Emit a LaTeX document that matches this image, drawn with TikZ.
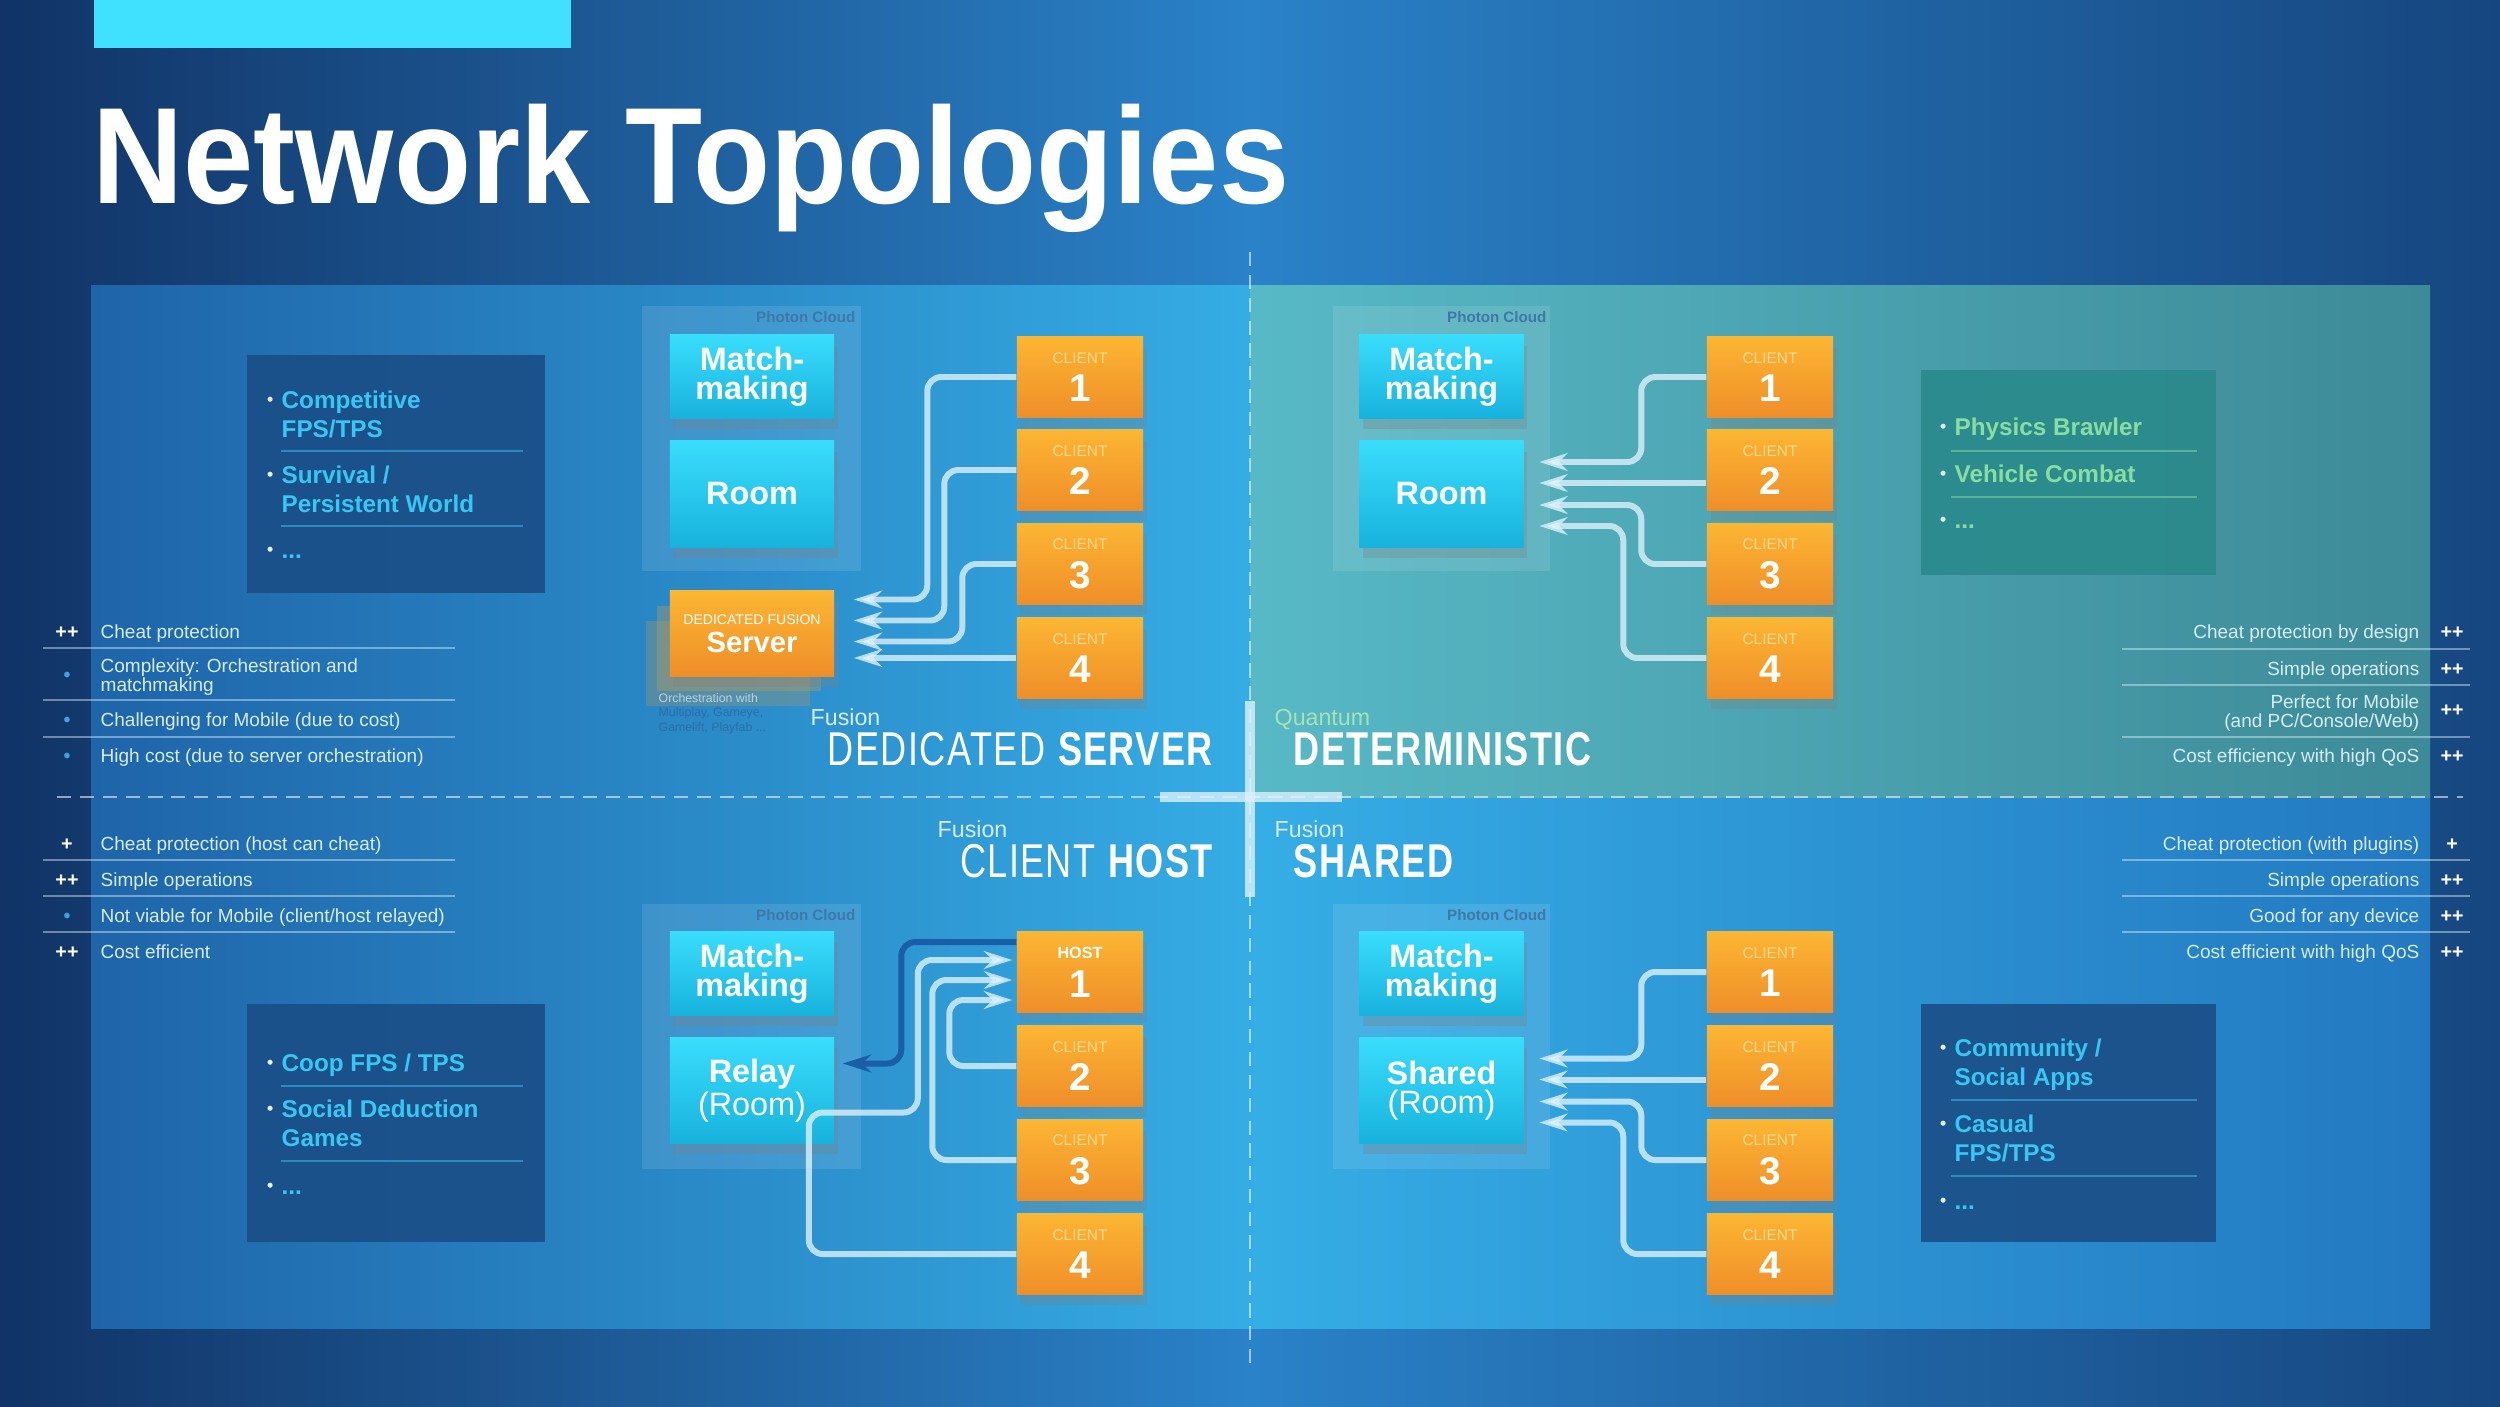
\documentclass[tikz,border=0pt]{standalone}
\usepackage{fontspec}
\setmainfont{Liberation Sans}
\newfontfamily\headfont[FakeStretch=0.92]{Liberation Sans}
\newfontfamily\narrowfont[FakeStretch=0.76,LetterSpace=3]{Liberation Sans}
\usetikzlibrary{arrows.meta,calc,shadows}

\definecolor{bgL}{HTML}{113366}
\definecolor{bgM}{HTML}{2A82C8}
\definecolor{bgR}{HTML}{16467F}
\definecolor{pnL}{HTML}{1E64A8}
\definecolor{pnM}{HTML}{35ADE5}
\definecolor{pnR}{HTML}{2379C0}
\definecolor{tealL}{HTML}{58B9C6}
\definecolor{tealR}{HTML}{3D8A98}
\definecolor{barcyan}{HTML}{40E0FF}
\definecolor{cyTop}{HTML}{3ADDFC}
\definecolor{cyBot}{HTML}{17B2DD}
\definecolor{orTop}{HTML}{FCB633}
\definecolor{orBot}{HTML}{EF8E29}
\definecolor{cliTxt}{HTML}{FFD88E}
\definecolor{gameBox}{HTML}{1B4E86}
\definecolor{gameTeal}{HTML}{2A8A8B}
\definecolor{gameTxt}{HTML}{38C6F2}
\definecolor{gameGrn}{HTML}{88DDA2}
\definecolor{listTxt}{HTML}{D6ECF8}
\definecolor{dotBlue}{HTML}{3DA2E2}
\definecolor{flowW}{HTML}{DCF1FB}
\definecolor{backBlue}{HTML}{1A5EA8}
\definecolor{pcTxt}{HTML}{3F78A8}
\definecolor{quantGrn}{HTML}{A6E3B4}
\definecolor{orchTxt}{HTML}{B9D2E4}
\definecolor{orchDark}{HTML}{2F6CA8}

\newcommand{\cltag}[1]{{\fontsize{4.4}{4.4}\selectfont\mdseries\color{cliTxt}#1}}
\newcommand{\gb}{\llap{\raisebox{.6pt}{\color{white!85!gameTxt}\fontsize{5}{5}\selectfont\textbullet}\hspace{2.4pt}}}

\begin{document}
\begin{tikzpicture}[x=0.01cm,y=-0.01cm]
  \tikzset{
    bx/.style={minimum width=1.64cm,inner sep=0pt,align=center,text=white,
               top color=cyTop,bottom color=cyBot,
               drop shadow={shadow xshift=1pt,shadow yshift=-3pt,opacity=.3},
               font=\fontsize{9.2}{8.2}\selectfont\bfseries},
    mbox/.style={bx,minimum height=0.83cm},
    rbox/.style={bx,minimum height=1.06cm},
    cli/.style={minimum width=1.26cm,minimum height=0.8cm,inner sep=0pt,align=center,
                text=white,top color=orTop,bottom color=orBot,
                drop shadow={shadow xshift=1pt,shadow yshift=-3pt,opacity=.3},
                font=\fontsize{11}{11}\selectfont\bfseries},
    srvbox/.style={cli,minimum width=1.64cm,minimum height=0.85cm,
                   font=\fontsize{8.3}{8}\selectfont\bfseries},
    pc/.style={font=\fontsize{4.3}{4.5}\selectfont\bfseries,text=pcTxt,anchor=north east,inner sep=0pt},
    sect/.style={font=\narrowfont\fontsize{13.5}{14}\selectfont,text=white,inner sep=0pt},
    subt/.style={font=\fontsize{6.6}{7}\selectfont,text=listTxt,anchor=base west,inner sep=0pt},
    litem/.style={font=\fontsize{5.4}{5.3}\selectfont,text=listTxt,inner sep=0pt},
    sgn/.style={font=\fontsize{5.6}{6}\selectfont\bfseries,text=white,inner sep=0pt,anchor=base},
    neg/.style={sgn,text=dotBlue},
    sepline/.style={draw=flowW,opacity=.45,line width=.4pt},
    game/.style={font=\fontsize{6.9}{8.24}\selectfont\bfseries,text=gameTxt,
                 anchor=base west,inner sep=0pt,align=left},
    gsep/.style={draw=gameTxt,opacity=.5,line width=.5pt},
    dashln/.style={draw=white,opacity=.55,line width=.5pt,dash pattern=on 4pt off 2.5pt},
    crossln/.style={draw=flowW,opacity=.8,line width=2.8pt},
    flow/.style={draw=flowW,draw opacity=.8,line width=1.7pt,rounded corners=4pt,
                 -{Stealth[length=8pt,width=5pt,inset=2.5pt]}},
    back/.style={flow,draw=backBlue,draw opacity=1}
  }
  \useasboundingbox (0,0) rectangle (2500,1406);
  % backdrop
  \shade[left color=bgL,right color=bgR,middle color=bgM] (0,0) rectangle (2500,1406);
  \shade[left color=pnL,right color=pnR,middle color=pnM] (91,285) rectangle (2430,1328);
  \shade[left color=tealL,right color=tealR] (1250,285) rectangle (2430,797);
  \fill[barcyan] (94,0) rectangle (571,48);

  \node[font=\headfont\fontsize{39}{40}\selectfont\bfseries,text=white,anchor=base west,
        inner sep=0pt] (title) at (92,203) {Network Topologies};

  \draw[dashln] (1250,252) -- (1250,1363);
  \draw[dashln] (57,797) -- (2463,797);
  \draw[crossln] (1250,701) -- (1250,897);
  \draw[crossln] (1160,797) -- (1342,797);

  % photon cloud areas
  \fill[white,opacity=.1] (642,306) rectangle (861,571);
  \fill[white,opacity=.1] (1333,306) rectangle (1550,571);
  \fill[white,opacity=.1] (642,904) rectangle (861,1169);
  \fill[white,opacity=.1] (1333,904) rectangle (1550,1169);
  \node[pc] (pc1) at (856,311) {Photon Cloud};
  \node[pc] (pc2) at (1547,311) {Photon Cloud};
  \node[pc] (pc3) at (856,909) {Photon Cloud};
  \node[pc] (pc4) at (1547,909) {Photon Cloud};

  % dedicated server
  \fill[orTop!45!gray,opacity=.3] (646,621) rectangle (810,706);
  \fill[orTop!55!gray,opacity=.35] (657,606) rectangle (821,691);
  \node[mbox] (mm1) at (752,376.5) {Match-\\making};
  \node[rbox] (room1) at (752,494) {Room};
  \node[srvbox] (srv) at (752,633.5) {{\fontsize{4}{4}\selectfont\mdseries DEDICATED FUSION}\\Server};
  \node[font=\fontsize{3.5}{4}\selectfont,text=orchTxt,anchor=base west,inner sep=0pt]
       (orch) at (658,702) {Orchestration with};
  \node[font=\fontsize{3.5}{4}\selectfont,text=orchDark,anchor=base west,inner sep=0pt,align=left]
       (orch2) at (658,731) {Multiplay, Gameye,\\Gamelift, Playfab ...};
  \node[cli] (a1) at (1080,377) {\cltag{CLIENT}\\1};
  \node[cli] (a2) at (1080,470) {\cltag{CLIENT}\\2};
  \node[cli] (a3) at (1080,564) {\cltag{CLIENT}\\3};
  \node[cli] (a4) at (1080,658) {\cltag{CLIENT}\\4};
  \draw[flow] (a1.west) -- ++(-89,0) |- ($(srv.east)+(19,-34)$);
  \draw[flow] (a2.west) -- ++(-72,0) |- ($(srv.east)+(19,-13)$);
  \draw[flow] (a3.west) -- ++(-54,0) |- ($(srv.east)+(19,8)$);
  \draw[flow] (a4.west) -- ($(a4.west -| srv.east)+(19,0)$);
  \node[subt] (dsF) at (810,725) {Fusion};
  \node[sect,anchor=base east] (dsT) at (1215,765) {DEDICATED \textbf{SERVER}};

  % deterministic
  \node[mbox] (mm2) at (1441.5,376.5) {Match-\\making};
  \node[rbox] (room2) at (1441.5,494) {Room};
  \node[cli] (b1) at (1770,377) {\cltag{CLIENT}\\1};
  \node[cli] (b2) at (1770,470) {\cltag{CLIENT}\\2};
  \node[cli] (b3) at (1770,564) {\cltag{CLIENT}\\3};
  \node[cli] (b4) at (1770,658) {\cltag{CLIENT}\\4};
  \draw[flow] (b1.west) -- ++(-65,0) |- ($(room2.east)+(15,-32)$);
  \draw[flow] (b2.west) ++(0,13) -- ($(room2.east)+(15,-11)$);
  \draw[flow] (b3.west) -- ++(-65,0) |- ($(room2.east)+(15,11)$);
  \draw[flow] (b4.west) -- ++(-83,0) |- ($(room2.east)+(15,32)$);
  \node[subt,text=quantGrn] (qdF) at (1274,725) {Quantum};
  \node[sect,anchor=base west] (qdT) at (1293,765) {\textbf{DETERMINISTIC}};

  % client host
  \node[mbox] (mm3) at (752,973.5) {Match-\\making};
  \node[rbox] (relay) at (752,1090.5) {Relay\\{\mdseries (Room)}};
  \node[cli] (d1) at (1080,972) {{\fontsize{4.6}{4.6}\selectfont HOST}\\1};
  \node[cli] (d2) at (1080,1066) {\cltag{CLIENT}\\2};
  \node[cli] (d3) at (1080,1160) {\cltag{CLIENT}\\3};
  \node[cli] (d4) at (1080,1254) {\cltag{CLIENT}\\4};
  \draw[back] (d1.west) ++(0,-30) -- ++(-115,0) |- ($(relay.east)+(8,-27)$);
  \draw[flow] (d4.west) -| ($(relay.east)+(-26,22)$) -- ++(109,0) |- ($(d1.west)+(-4,-12)$);
  \draw[flow] (d3.west) -- ++(-84,0) |- ($(d1.west)+(-4,8)$);
  \draw[flow] (d2.west) -- ++(-67,0) |- ($(d1.west)+(-4,28)$);
  \node[subt] (chF) at (937,837) {Fusion};
  \node[sect,anchor=base east] (chT) at (1215,877) {CLIENT \textbf{HOST}};

  % shared
  \node[mbox] (mm4) at (1441.5,973.5) {Match-\\making};
  \node[rbox] (shared) at (1441.5,1090.5) {Shared\\{\mdseries (Room)}};
  \node[cli] (e1) at (1770,972) {\cltag{CLIENT}\\1};
  \node[cli] (e2) at (1770,1066) {\cltag{CLIENT}\\2};
  \node[cli] (e3) at (1770,1160) {\cltag{CLIENT}\\3};
  \node[cli] (e4) at (1770,1254) {\cltag{CLIENT}\\4};
  \draw[flow] (e1.west) -- ++(-65,0) |- ($(shared.east)+(15,-32)$);
  \draw[flow] (e2.west) ++(0,13.5) -- ($(shared.east)+(15,-11)$);
  \draw[flow] (e3.west) -- ++(-65,0) |- ($(shared.east)+(15,11)$);
  \draw[flow] (e4.west) -- ++(-83,0) |- ($(shared.east)+(15,32)$);
  \node[subt] (shF) at (1274,837) {Fusion};
  \node[sect,anchor=base west] (shT) at (1293,877) {\textbf{SHARED}};

  % pros and cons
  \node[sgn] (tm1) at (67,638) {++};
  \node[litem,anchor=base west] (tl1) at (100,638) {Cheat protection};
  \node[neg] (tm2) at (67,681) {\textbullet};
  \node[litem,anchor=base west,align=left] (tl2) at (100,691) {Complexity: Orchestration and\\matchmaking};
  \node[neg] (tm3) at (67,726) {\textbullet};
  \node[litem,anchor=base west] (tl3) at (100,726) {Challenging for Mobile (due to cost)};
  \node[neg] (tm4) at (67,762) {\textbullet};
  \node[litem,anchor=base west] (tl4) at (100,762) {High cost (due to server orchestration)};
  \draw[sepline] (43,648) -- (455,648);
  \draw[sepline] (43,700) -- (455,700);
  \draw[sepline] (43,737) -- (455,737);

  \node[sgn] (bm1) at (67,850) {+};
  \node[litem,anchor=base west] (bl1) at (100,850) {Cheat protection (host can cheat)};
  \node[sgn] (bm2) at (67,886) {++};
  \node[litem,anchor=base west] (bl2) at (100,886) {Simple operations};
  \node[neg] (bm3) at (67,922) {\textbullet};
  \node[litem,anchor=base west] (bl3) at (100,922) {Not viable for Mobile (client/host relayed)};
  \node[sgn] (bm4) at (67,958) {++};
  \node[litem,anchor=base west] (bl4) at (100,958) {Cost efficient};
  \draw[sepline] (43,860) -- (455,860);
  \draw[sepline] (43,896) -- (455,896);
  \draw[sepline] (43,932) -- (455,932);

  \node[litem,anchor=base east] (tr1) at (2420,638) {Cheat protection by design};
  \node[sgn] (rm1) at (2452,638) {++};
  \node[litem,anchor=base east] (tr2) at (2420,675) {Simple operations};
  \node[sgn] (rm2) at (2452,675) {++};
  \node[litem,anchor=base east,align=right] (tr3) at (2420,727) {Perfect for Mobile\\(and PC/Console/Web)};
  \node[sgn] (rm3) at (2452,716) {++};
  \node[litem,anchor=base east] (tr4) at (2420,762) {Cost efficiency with high QoS};
  \node[sgn] (rm4) at (2452,762) {++};
  \draw[sepline] (2122,649) -- (2470,649);
  \draw[sepline] (2122,685) -- (2470,685);
  \draw[sepline] (2122,737) -- (2470,737);

  \node[litem,anchor=base east] (br1) at (2420,850) {Cheat protection (with plugins)};
  \node[sgn] (sm1) at (2452,850) {+};
  \node[litem,anchor=base east] (br2) at (2420,886) {Simple operations};
  \node[sgn] (sm2) at (2452,886) {++};
  \node[litem,anchor=base east] (br3) at (2420,922) {Good for any device};
  \node[sgn] (sm3) at (2452,922) {++};
  \node[litem,anchor=base east] (br4) at (2420,958) {Cost efficient with high QoS};
  \node[sgn] (sm4) at (2452,958) {++};
  \draw[sepline] (2122,860) -- (2470,860);
  \draw[sepline] (2122,896) -- (2470,896);
  \draw[sepline] (2122,932) -- (2470,932);

  % game genres
  \fill[gameBox,opacity=.9] (247,355) rectangle (545,593);
  \node[game] (g1) at (281,437) {\gb Competitive\\FPS/TPS};
  \draw[gsep] (281,451) -- (523,451);
  \node[game] (g2) at (281,512) {\gb Survival /\\Persistent World};
  \draw[gsep] (281,526) -- (523,526);
  \node[game] (g3) at (281,558) {\gb ...};

  \fill[gameTeal,opacity=.9] (1921,370) rectangle (2216,575);
  \node[game,text=gameGrn] (g4) at (1954,435) {\gb Physics Brawler};
  \draw[gsep,draw=gameGrn] (1951,451) -- (2197,451);
  \node[game,text=gameGrn] (g5) at (1954,482) {\gb Vehicle Combat};
  \draw[gsep,draw=gameGrn] (1951,497) -- (2197,497);
  \node[game,text=gameGrn] (g6) at (1954,528) {\gb ...};

  \fill[gameBox,opacity=.9] (247,1004) rectangle (545,1242);
  \node[game] (g7) at (281,1071) {\gb Coop FPS / TPS};
  \draw[gsep] (281,1086) -- (523,1086);
  \node[game] (g8) at (281,1146) {\gb Social Deduction\\Games};
  \draw[gsep] (281,1161) -- (523,1161);
  \node[game] (g9) at (281,1194) {\gb ...};

  \fill[gameBox,opacity=.9] (1921,1004) rectangle (2216,1242);
  \node[game] (g10) at (1954,1085) {\gb Community /\\Social Apps};
  \draw[gsep] (1951,1100) -- (2197,1100);
  \node[game] (g11) at (1954,1161) {\gb Casual\\FPS/TPS};
  \draw[gsep] (1951,1176) -- (2197,1176);
  \node[game] (g12) at (1954,1209) {\gb ...};
\end{tikzpicture}
\end{document}
